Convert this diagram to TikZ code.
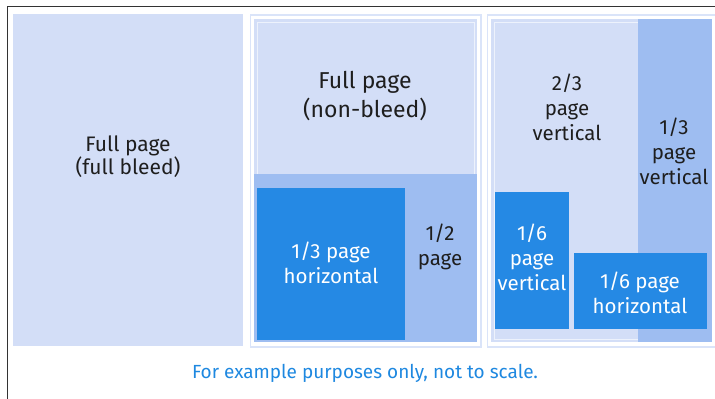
\documentclass[tikz,border=0pt]{standalone}
\usepackage{fontspec}
\setmainfont{Fira Sans}
\definecolor{lightb}{HTML}{D3DEF7}
\definecolor{frameb}{HTML}{DAE4F9}
\definecolor{midb}{HTML}{9EBDF1}
\definecolor{darkb}{HTML}{2589E4}
\definecolor{txt}{HTML}{1E1E1E}
\definecolor{foot}{HTML}{1E88E0}
\begin{document}
\begin{tikzpicture}[x=1pt,y=-1pt,
  lbl/.style={align=center,text=txt,inner sep=0pt},
  wlbl/.style={align=center,text=white,inner sep=0pt},
  fs/.style={font=\fontsize{20.5}{25}\selectfont},
  panelframe/.style={draw=frameb,line width=1.5pt,fill=white}]
\useasboundingbox (0,0) rectangle (715,399);
\clip (0,0) rectangle (715,399);
% outer frame
\draw[black!80,line width=1pt] (7,6) rectangle (730,420);
% panel 1
\fill[lightb] (13,14) rectangle (243,346);
\node[lbl,font=\fontsize{21}{23}\selectfont] (fullbleed) at (128,156.5) {Full page\\(full bleed)};
% panel 2
\draw[panelframe] (250.5,15) rectangle (481,347);
\fill[lightb] (254,19) rectangle (477,174);
\draw[white!60!lightb,line width=0.6pt] (257,22) rectangle (474,174);
\fill[midb] (254,174) rectangle (477,342);
\fill[darkb] (257,188) rectangle (405,340);
\node[lbl,font=\fontsize{23}{29}\selectfont] (nonbleed) at (365,96.5) {Full page\\(non-bleed)};
\node[wlbl,fs] (thirdh) at (331,262.5) {1/3 page\\horizontal};
\node[lbl,fs] (half) at (440,246.5) {1/2\\page};
% panel 3
\draw[panelframe] (487.5,15) rectangle (716,347);
\fill[lightb] (491,19) rectangle (712,342);
\draw[white!60!lightb,line width=0.6pt] (494,22) rectangle (638,339);
\fill[midb] (638,19) rectangle (712,342);
\fill[darkb] (495,192) rectangle (569,329);
\fill[darkb] (574,253) rectangle (707,329);
\node[lbl,fs] (twothirdv) at (567,107) {2/3\\page\\vertical};
\node[lbl,fs] (thirdv) at (674,151) {1/3\\page\\vertical};
\node[wlbl,fs] (sixthv) at (532,257) {1/6\\page\\vertical};
\node[wlbl,fs] (sixthh) at (640,292.5) {1/6 page\\horizontal};
% footer
\node[text=foot,inner sep=0pt,font=\fontsize{19}{22}\selectfont] (footer) at (365,373) {For example purposes only, not to scale.};
\end{tikzpicture}
\end{document}
